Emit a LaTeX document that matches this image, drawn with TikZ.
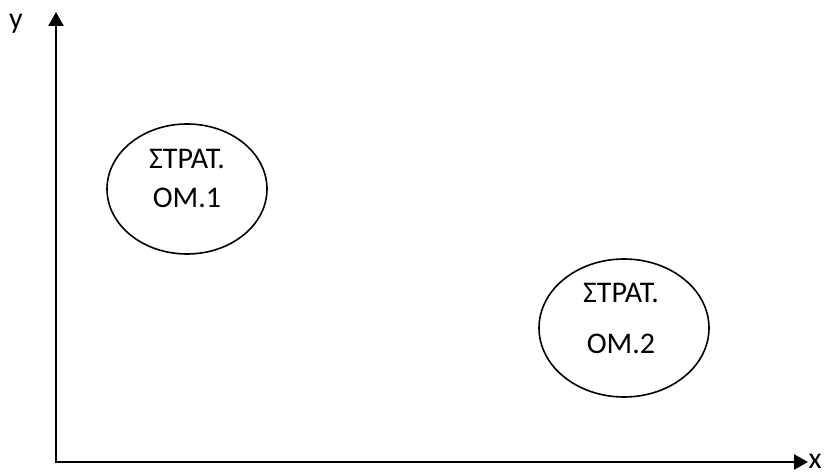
\documentclass[tikz,border=0pt]{standalone}
\usepackage{fontspec}
\setmainfont{Carlito}
\usepackage{tikz}
\usetikzlibrary{arrows.meta}
\usetikzlibrary{shapes.geometric}

\begin{document}
\begin{tikzpicture}
[
    x=0.5pt, y=-0.5pt,
    font=\fontsize{15}{19.5}\selectfont,
    axis/.style={draw, line width=1.3pt, {Triangle[length=7pt,width=7.5pt]}-{Triangle[length=7pt,width=7.5pt]}},
    grp/.style={draw, ellipse, line width=0.8pt, inner sep=0pt}, % grp = group ellipse
    lbl/.style={align=center, inner sep=0pt},
]
\useasboundingbox (0,0) rectangle (824,475);

\coordinate (o) at (56,462);
\coordinate (ytop) at (56,12);
\coordinate (xend) at (808,462);

\draw[axis] (ytop) -- (o) -- (xend);

\node [lbl] (ylab) at (16,24) {y};
\node [lbl] (xlab) at (815,461) {x};

\node [grp, minimum width=80pt, minimum height=65pt] (str1) at (187,189) {};
\node [lbl] (t1) at (187,178) {ΣΤΡΑΤ.\\ΟΜ.1};

\node [grp, minimum width=85pt, minimum height=69pt] (str2) at (624,328) {};
\node [lbl] (t2) at (621,318) {ΣΤΡΑΤ.\\[6pt]ΟΜ.2};
\end{tikzpicture}
\end{document}
